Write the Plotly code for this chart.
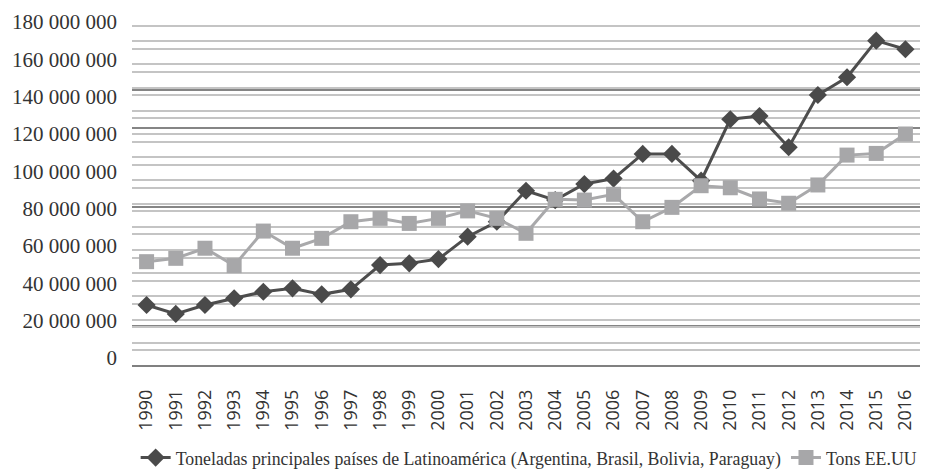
import plotly.graph_objects as go

years = [str(y) for y in range(1990, 2017)]
latam = [28.4e6, 23.6e6, 28.4e6, 32.0e6, 35.5e6, 37.3e6, 34.1e6, 36.8e6, 49.8e6, 50.7e6,
         53.0e6, 65.0e6, 73.0e6, 89.6e6, 84.6e6, 93.2e6, 96.1e6, 109.3e6, 109.3e6, 95.0e6,
         127.9e6, 129.6e6, 112.9e6, 140.9e6, 150.4e6, 170.0e6, 165.4e6]
usa = [51.6e6, 53.4e6, 58.8e6, 49.5e6, 68.0e6, 58.8e6, 64.1e6, 73.0e6, 74.8e6, 72.1e6,
       74.8e6, 78.8e6, 74.8e6, 66.8e6, 85.0e6, 84.6e6, 87.7e6, 73.0e6, 80.7e6, 92.3e6,
       91.2e6, 85.2e6, 82.9e6, 92.7e6, 108.7e6, 109.6e6, 120.0e6]
tick_vals = [0, 20e6, 40e6, 60e6, 80e6, 100e6, 120e6, 140e6, 160e6, 180e6]
tick_text = ["0", "20 000 000", "40 000 000", "60 000 000", "80 000 000", "100 000 000",
             "120 000 000", "140 000 000", "160 000 000", "180 000 000"]
name_latam = "Toneladas principales países de Latinoamérica (Argentina, Brasil, Bolivia, Paraguay)"
name_usa = "Tons EE.UU"

# the page body adds an 8px offset; figure coordinates below are page - 8
PLOT_TOP, PLOT_BOT = 10, 358
Y0_PX, Y180_PX = 350, 14
def px_to_val(y):
    return (Y0_PX - y) / (Y0_PX - Y180_PX) * 180e6

grid_px = []
for k in range(15):
    y1 = PLOT_TOP + k * (PLOT_BOT - PLOT_TOP) / 15
    grid_px += [y1, y1 + 7.5]
grid_vals = [px_to_val(y) for y in grid_px]
dark_vals = [px_to_val(y - 8) for y in [49, 90, 128, 207, 326]]

fig = go.Figure()
fig.add_trace(go.Scatter(
    x=years, y=latam, name=name_latam, mode="lines+markers",
    line=dict(color="#4d4d4d", width=3),
    marker=dict(symbol="diamond", size=14, color="#4a4a4a"),
))
fig.add_trace(go.Scatter(
    x=years, y=usa, name=name_usa, mode="lines+markers",
    line=dict(color="#a9a9ab", width=3),
    marker=dict(symbol="square", size=15, color="#a7a7a9"),
))

for v in dark_vals:
    fig.add_shape(type="line", xref="paper", x0=0, x1=1, yref="y", y0=v, y1=v,
                  line=dict(color="#858585", width=2), layer="below")

fig.update_layout(
    width=926, height=463,
    margin=dict(l=124, r=14, t=10, b=105, autoexpand=False),
    paper_bgcolor="white", plot_bgcolor="white",
    showlegend=True,
    legend=dict(orientation="h", x=0.504, xanchor="center",
                yref="container", y=0.028, yanchor="middle",
                font=dict(family="Liberation Serif", size=17.8, color="#333333"),
                itemwidth=30, tracegroupgap=0),
    xaxis=dict(
        type="category", range=[-0.5, 26.5], automargin=False,
        tickangle=-90, tickfont=dict(family="Open Sans", size=18, color="#333333"),
        showgrid=False, ticks="", ticklabelstandoff=19,
        showline=False, zeroline=False,
    ),
    yaxis=dict(
        range=[px_to_val(PLOT_BOT), px_to_val(PLOT_TOP)], automargin=False,
        tickmode="array", tickvals=tick_vals, ticktext=tick_text,
        tickfont=dict(family="Liberation Serif", size=21, color="#333333"),
        showgrid=False, zeroline=False, ticks="", ticklabelstandoff=14,
        showline=False,
        minor=dict(tickmode="array", tickvals=grid_vals, showgrid=True,
                   gridcolor="#c4c4c4", gridwidth=1.5),
    ),
)
# bottom axis line
fig.add_shape(type="line", xref="paper", x0=0, x1=1, yref="paper", y0=0, y1=0,
              line=dict(color="#808080", width=2))

fig.write_html("out.html")
